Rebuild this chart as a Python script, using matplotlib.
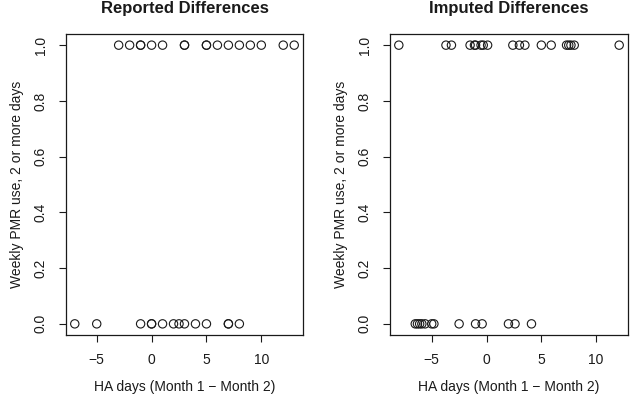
import matplotlib
matplotlib.use("Agg")
import matplotlib.pyplot as plt

plt.rcParams['font.family'] = ['Liberation Sans', 'DejaVu Sans']

# Reported differences
rep_x1 = [-3, -2, -1, -1, 0, 1, 3, 3, 5, 5, 6, 7, 8, 9, 10, 12, 13]
rep_x0 = [-7, -5, -1, 0, 0, 1, 2, 2.5, 3, 4, 5, 7, 7, 8]
# Imputed differences
imp_x1 = [-8.0, -3.7, -3.2, -1.5, -1.1, -1.0, -0.5, -0.3, 0.1,
          2.4, 3.0, 3.5, 5.0, 5.9, 7.3, 7.5, 7.7, 8.0, 12.1]
imp_x0 = [-6.5, -6.3, -6.1, -5.9, -5.6, -5.0, -4.8, -2.5, -1.0, -0.4,
          2.0, 2.6, 4.1]

titles = ["Reported Differences", "Imputed Differences"]
xlabel = "HA days (Month 1 \u2212 Month 2)"
ylabel = "Weekly PMR use, 2 or more days"
xticks = [-5, 0, 5, 10]
xtick_labels = ["\u22125", "0", "5", "10"]
yticks = [0.0, 0.2, 0.4, 0.6, 0.8, 1.0]
ytick_labels = ["0.0", "0.2", "0.4", "0.6", "0.8", "1.0"]

fig = plt.figure(figsize=(6.30, 4.01), dpi=100)
positions = [[66/630, 66/401, 237/630, 301/401],
             [390/630, 66/401, 238/630, 301/401]]
datasets = [(rep_x1, rep_x0), (imp_x1, imp_x0)]

col = '#1a1a1a'
fs = 10
for pos, (x1, x0), title in zip(positions, datasets, titles):
    ax = fig.add_axes(pos)
    xs = list(x1) + list(x0)
    ys = [1.0] * len(x1) + [0.0] * len(x0)
    ax.scatter(xs, ys, s=36, facecolors='none', edgecolors=col, linewidths=0.8)
    lo, hi = min(xs), max(xs)
    pad = 0.04 * (hi - lo)
    ax.set_xlim(lo - pad, hi + pad)
    ax.set_ylim(-0.04, 1.04)
    ax.set_xticks(xticks)
    ax.set_xticklabels(xtick_labels, fontsize=fs)
    ax.set_yticks(yticks)
    ax.set_yticklabels(ytick_labels, fontsize=fs, rotation=90, va='center')
    ax.tick_params(direction='out', length=5, width=0.8, colors=col, pad=8)
    for sp in ax.spines.values():
        sp.set_color(col)
        sp.set_linewidth(0.9)
    ax.set_xlabel(xlabel, fontsize=fs, color=col, labelpad=9)
    ax.set_ylabel(ylabel, fontsize=fs, color=col, labelpad=7)
    ax.set_title(title, fontsize=12, fontweight='bold', color=col, pad=15)

fig.savefig("out.png", dpi=100)
